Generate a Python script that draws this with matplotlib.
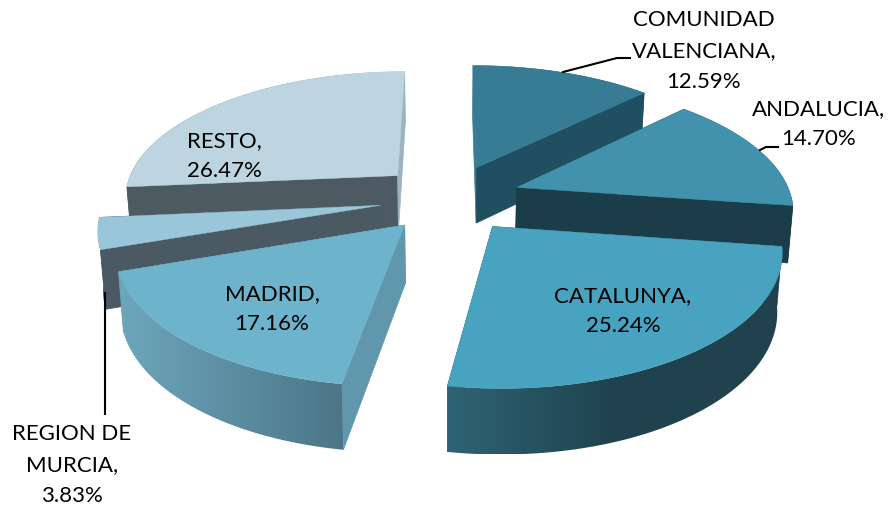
import numpy as np
import matplotlib
matplotlib.use("Agg")
import matplotlib.pyplot as plt
from matplotlib.colors import LinearSegmentedColormap
from matplotlib.patches import Polygon

plt.rcParams['font.family'] = ['Lato', 'DejaVu Sans']

categories = ["COMUNIDAD\nVALENCIANA", "ANDALUCIA", "CATALUNYA", "MADRID", "REGION DE\nMURCIA", "RESTO"]
shares = [12.59, 14.70, 25.24, 17.16, 3.83, 26.47]

top_colors = ['#377b94', '#4291ad', '#47a3bf', '#6eb3cc', '#99c6d9', '#bdd5e0']
start_wall_colors = ['#377b94', '#1f4753', '#2e6474', '#6097ac', '#4a5962', '#4e5a62']
end_wall_colors = ['#1f4f60', '#1a3d49', '#2e6474', '#6097ac', '#4a5962', '#9cb4c0']
rim_left_colors = ['#377b94', '#1f4753', '#2e6474', '#6da6bb', '#4a5962', '#4e5a62']
rim_mid_colors = ['#1f4f60', '#1f4753', '#1f424e', '#5c8ea2', '#4a5962', '#4e5a62']
rim_right_colors = ['#1f4f60', '#1a3c47', '#1f424e', '#4c7688', '#4a5962', '#9cb4c0']
rim_in_front = [False, False, True, True, False, False]
x_nudge = [2, 0, 0, 7, 7, 4]
draw_order = [0, 5, 4, 1, 3, 2]

label_pos = [(704, 51), (819, 124), (623, 311), (272, 309), (72, 465), (224, 156)]

CX, CY = 447, 198
RX, RY = 275, 126.7
PERSP = 0.156
EXPLODE = 0.27
DEPTH = 57
SHRINK = 0.985


def project(x, y):
    s = 1 / (1 - PERSP * y)
    return CX + RX * x * s, CY + RY * y * s, s


def drop(px, py, s):
    return CX + (px - CX) * SHRINK, py + DEPTH * s ** 0.7


def wedge_points(start, end):
    mid = (start + end) / 2
    ax0 = EXPLODE * np.sin(mid)
    ay0 = -EXPLODE * np.cos(mid)
    th = np.linspace(start, end, 120)
    rx = ax0 + np.sin(th)
    ry = ay0 - np.cos(th)
    return project(ax0, ay0), project(rx, ry)


fig = plt.figure(figsize=(8.9, 5.11), dpi=100)
ax = fig.add_axes([0, 0, 1, 1])

edges = np.cumsum([0] + shares) / sum(shares) * 2 * np.pi

for order, i in enumerate(draw_order):
    apex, rim = wedge_points(edges[i], edges[i + 1])
    ax_px, ay_px, a_s = apex
    rx_px, ry_px, r_s = rim
    a_low = drop(ax_px, ay_px, a_s)
    r_lowx, r_lowy = drop(rx_px, ry_px, r_s)
    n = x_nudge[i]

    # front wedges show the rim over the radial walls, back wedges the other way round
    rim_z = 2 + order * 3 if rim_in_front[i] else 1 + order * 3
    wall_z = 1 + order * 3 if rim_in_front[i] else 2 + order * 3

    # outer wall with a left to right gradient, clipped from an image
    outline = np.c_[np.r_[rx_px, r_lowx[::-1]] + n, np.r_[ry_px, r_lowy[::-1]]]
    cmap = LinearSegmentedColormap.from_list(f"rim{i}", [rim_left_colors[i], rim_mid_colors[i], rim_right_colors[i]])
    im = ax.imshow(np.linspace(0, 1, 256)[None, :], cmap=cmap, aspect='auto',
                   extent=(outline[:, 0].min(), outline[:, 0].max(), outline[:, 1].max(), outline[:, 1].min()),
                   zorder=rim_z)
    clip = Polygon(outline, closed=True, transform=ax.transData, fill=False, lw=0)
    ax.add_patch(clip)
    im.set_clip_path(clip)

    for k, col in ((0, start_wall_colors[i]), (-1, end_wall_colors[i])):
        ax.fill(np.array([ax_px, rx_px[k], r_lowx[k], a_low[0]]) + n,
                [ay_px, ry_px[k], r_lowy[k], a_low[1]],
                color=col, lw=0.5, zorder=wall_z)

    ax.fill(np.r_[ax_px, rx_px] + n, np.r_[ay_px, ry_px], color=top_colors[i], lw=0.3,
            zorder=3 + order * 3)

ax.set_xlim(0, 890)
ax.set_ylim(511, 0)
ax.axis('off')

# leader lines
ax.plot([563, 617, 630], [72, 58, 58], color='black', lw=1.5, zorder=30)
ax.plot([760, 766, 778], [150, 147, 147], color='black', lw=1.5, zorder=30)
ax.plot([105, 105], [293, 414], color='black', lw=1.5, zorder=30)

for name, share, (x, y) in zip(categories, shares, label_pos):
    ax.text(x, y, f"{name},\n{share:.2f}%", ha='center', va='center', fontsize=16,
            linespacing=1.67, color='black', zorder=40)

fig.savefig("out.png", dpi=100)
